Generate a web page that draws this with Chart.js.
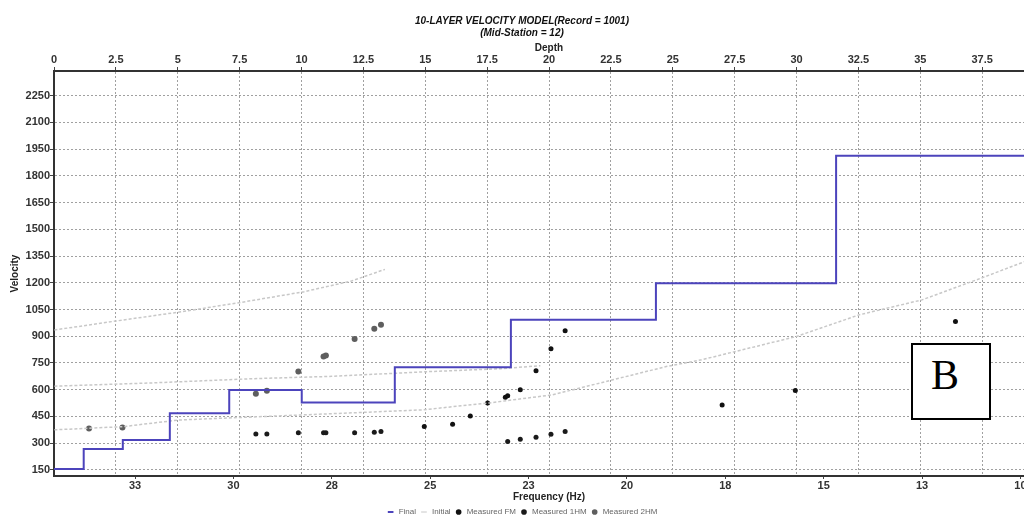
<!DOCTYPE html>
<html>
<head>
<meta charset="utf-8">
<title>10-Layer Velocity Model</title>
<script src="https://cdn.jsdelivr.net/npm/chart.js@4.4.1/dist/chart.umd.min.js"></script>
<style>
  html, body { margin: 0; padding: 0; background: #fff; overflow: hidden; }
  .chart-container { position: relative; width: 1050px; height: 526px; }
  /* panel tag drawn over the plot */
  .tag {
    position: absolute; left: 911px; top: 343px;
    height: 73px; width: 58px; padding-left: 18px;
    border: 2px solid #000; background: #fff;
    font-family: 'Liberation Serif', 'DejaVu Serif', serif;
    font-size: 42px; line-height: 61px;
  }
</style>
</head>
<body>
<div class="chart-container">
  <canvas id="chart" width="1050" height="526"></canvas>
  <div class="tag">B</div>
</div>
<script>
// axis ticks
const depthTicks = [0, 2.5, 5, 7.5, 10, 12.5, 15, 17.5, 20, 22.5, 25, 27.5, 30, 32.5, 35, 37.5];
const velocityTicks = [150, 300, 450, 600, 750, 900, 1050, 1200, 1350, 1500, 1650, 1800, 1950, 2100, 2250];
const freqTicks = [32.5, 30, 27.5, 25, 22.5, 20, 17.5, 15, 12.5, 10];

// final 10-layer model (depth of layer top, velocity)
const layerTopDepth = [0, 1.2, 2.78, 4.68, 7.08, 10.01, 13.77, 18.46, 24.32, 31.6];
const layerVelocity = [155, 268, 318, 468, 599, 528, 726, 992, 1197, 1913];
const modelBottomDepth = 40;

// initial dispersion curves (frequency Hz, velocity)
const initUpperFreq = [34.55, 33.0, 31.4, 29.8, 28.2, 27.0, 26.15];
const initUpperVel = [935, 985, 1035, 1090, 1150, 1210, 1275];
const initMiddleFreq = [34.55, 32.1, 29.5, 27.5, 25.2, 23.2, 22.2];
const initMiddleVel = [620, 638, 662, 675, 700, 718, 735];
const initLowerFreq = [34.55, 32.8, 31.4, 28.2, 25.2, 23.5, 21.9, 19.0, 18.1, 15.7, 14.1, 12.5, 10.9, 9.4];
const initLowerVel = [375, 393, 430, 459, 487, 526, 571, 730, 768, 898, 1020, 1104, 1234, 1360];

// measured points
const fmFreq = [25.15, 24.43, 23.98, 23.54, 23.09, 23.03, 22.71, 22.31, 21.93, 21.57, 17.58, 15.72, 11.65];
const fmVel = [393, 407, 453, 525, 558, 566, 600, 706, 830, 931, 515, 595, 983];
const hm1Freq = [29.43, 29.15, 28.35, 27.71, 27.65, 26.92, 26.42, 26.25, 23.03, 22.71, 22.31, 21.93, 21.57];
const hm1Vel = [352, 352, 359, 359, 359, 359, 362, 365, 309, 322, 333, 350, 365];
const hm2Freq = [33.67, 32.82, 29.43, 29.15, 28.35, 27.71, 27.65, 26.92, 26.42, 26.25];
const hm2Vel = [382, 388, 577, 594, 702, 786, 792, 884, 942, 964];

const pairs = (xs, ys) => xs.map((x, i) => ({ x: x, y: ys[i] }));

// step line: each layer holds until the next layer top
const finalData = pairs(layerTopDepth, layerVelocity);
finalData.push({ x: modelBottomDepth, y: layerVelocity[layerVelocity.length - 1] });

// the three initial curves in one dataset, broken by null points
const initialData = pairs(initUpperFreq, initUpperVel)
  .concat([{ x: 26, y: null }])
  .concat(pairs(initMiddleFreq, initMiddleVel))
  .concat([{ x: 22, y: null }])
  .concat(pairs(initLowerFreq, initLowerVel));

const FONT = "'Liberation Sans', Arial, sans-serif";
const tickFont = { family: FONT, size: 11, weight: 'bold' };
const titleFont = { family: FONT, size: 10, weight: 'bold', lineHeight: 1.2 };
// dotted grid lines (v4 takes the grid dash from border.dash)
const dottedGrid = { color: '#a0a0a0', lineWidth: 1, drawTicks: true, tickLength: 4, tickColor: '#444' };
const axisBorder = { display: true, color: '#333', width: 2, dash: [2, 2] };

const ctx = document.getElementById('chart').getContext('2d');

new Chart(ctx, {
  type: 'line',
  data: {
    datasets: [
      {
        label: 'Final',
        data: finalData,
        xAxisID: 'xDepth',
        stepped: true,
        borderColor: '#4c44bc',
        borderWidth: 2,
        pointRadius: 0,
        pointStyle: 'line',
        pointBorderColor: '#4c44bc',
        pointBorderWidth: 2,
        fill: false,
      },
      {
        label: 'Initial',
        data: initialData,
        xAxisID: 'xFreq',
        spanGaps: false,
        borderColor: '#c8c8c8',
        borderWidth: 1.5,
        borderDash: [3, 2],
        pointRadius: 0,
        pointStyle: 'line',
        pointBorderColor: '#c8c8c8',
        pointBorderWidth: 1,
        fill: false,
      },
      {
        label: 'Measured FM',
        data: pairs(fmFreq, fmVel),
        xAxisID: 'xFreq',
        showLine: false,
        pointStyle: 'circle',
        pointRadius: 2.5,
        pointBackgroundColor: '#111',
        pointBorderWidth: 0,
      },
      {
        label: 'Measured 1HM',
        data: pairs(hm1Freq, hm1Vel),
        xAxisID: 'xFreq',
        showLine: false,
        pointStyle: 'circle',
        pointRadius: 2.5,
        pointBackgroundColor: '#1a1a1a',
        pointBorderWidth: 0,
      },
      {
        label: 'Measured 2HM',
        data: pairs(hm2Freq, hm2Vel),
        xAxisID: 'xFreq',
        showLine: false,
        pointStyle: 'circle',
        pointRadius: 3,
        pointBackgroundColor: '#5e5e5e',
        pointBorderWidth: 0,
      },
    ],
  },
  options: {
    responsive: false,
    animation: false,
    layout: { padding: { top: 0, right: 6, bottom: 0, left: 0 } },
    plugins: {
      title: {
        display: true,
        text: ['10-LAYER VELOCITY MODEL(Record = 1001)', '(Mid-Station = 12)'],
        color: '#111',
        font: { family: FONT, size: 10, weight: 'bold', style: 'italic', lineHeight: 1.2 },
        padding: { top: 15, bottom: 0 },
      },
      legend: {
        position: 'bottom',
        labels: {
          usePointStyle: true,
          boxHeight: 4,
          boxWidth: 8,
          padding: 4,
          color: '#666',
          font: { family: FONT, size: 8 },
        },
      },
      tooltip: { enabled: false },
    },
    scales: {
      xDepth: {
        type: 'linear',
        position: 'top',
        min: 0,
        max: 40,
        afterBuildTicks: (scale) => { scale.ticks = depthTicks.map((v) => ({ value: v })); },
        afterFit: (scale) => { scale.height = 32; },
        ticks: { color: '#333', font: tickFont, padding: 0, maxRotation: 0, autoSkip: false,
                 callback: (v) => String(v) },
        grid: dottedGrid,
        border: axisBorder,
        title: { display: true, text: 'Depth', color: '#222', font: titleFont, padding: { top: 3, bottom: 0 } },
      },
      xFreq: {
        type: 'linear',
        position: 'bottom',
        reverse: true,
        min: 9.4,
        max: 34.56,
        afterBuildTicks: (scale) => { scale.ticks = freqTicks.map((v) => ({ value: v })); },
        afterFit: (scale) => { scale.height = 28; },
        ticks: { color: '#333', font: tickFont, padding: 0, maxRotation: 0, autoSkip: false,
                 callback: (v) => String(Math.round(v)) },
        grid: { drawOnChartArea: false, drawTicks: true, tickLength: 3, tickColor: '#444' },
        border: { display: true, color: '#333', width: 2 },
        title: { display: true, text: 'Frequency (Hz)', color: '#222', font: titleFont, padding: { top: 0, bottom: 1 } },
      },
      y: {
        type: 'linear',
        position: 'left',
        min: 116,
        max: 2388,
        afterBuildTicks: (scale) => { scale.ticks = velocityTicks.map((v) => ({ value: v })); },
        afterFit: (scale) => { scale.width = 54; },
        ticks: { color: '#333', font: tickFont, padding: 0, autoSkip: false,
                 callback: (v) => String(v) },
        grid: dottedGrid,
        border: axisBorder,
        title: { display: true, text: 'Velocity', color: '#222', font: titleFont, padding: { top: 9, bottom: 0 } },
      },
    },
  },
});
</script>
</body>
</html>
